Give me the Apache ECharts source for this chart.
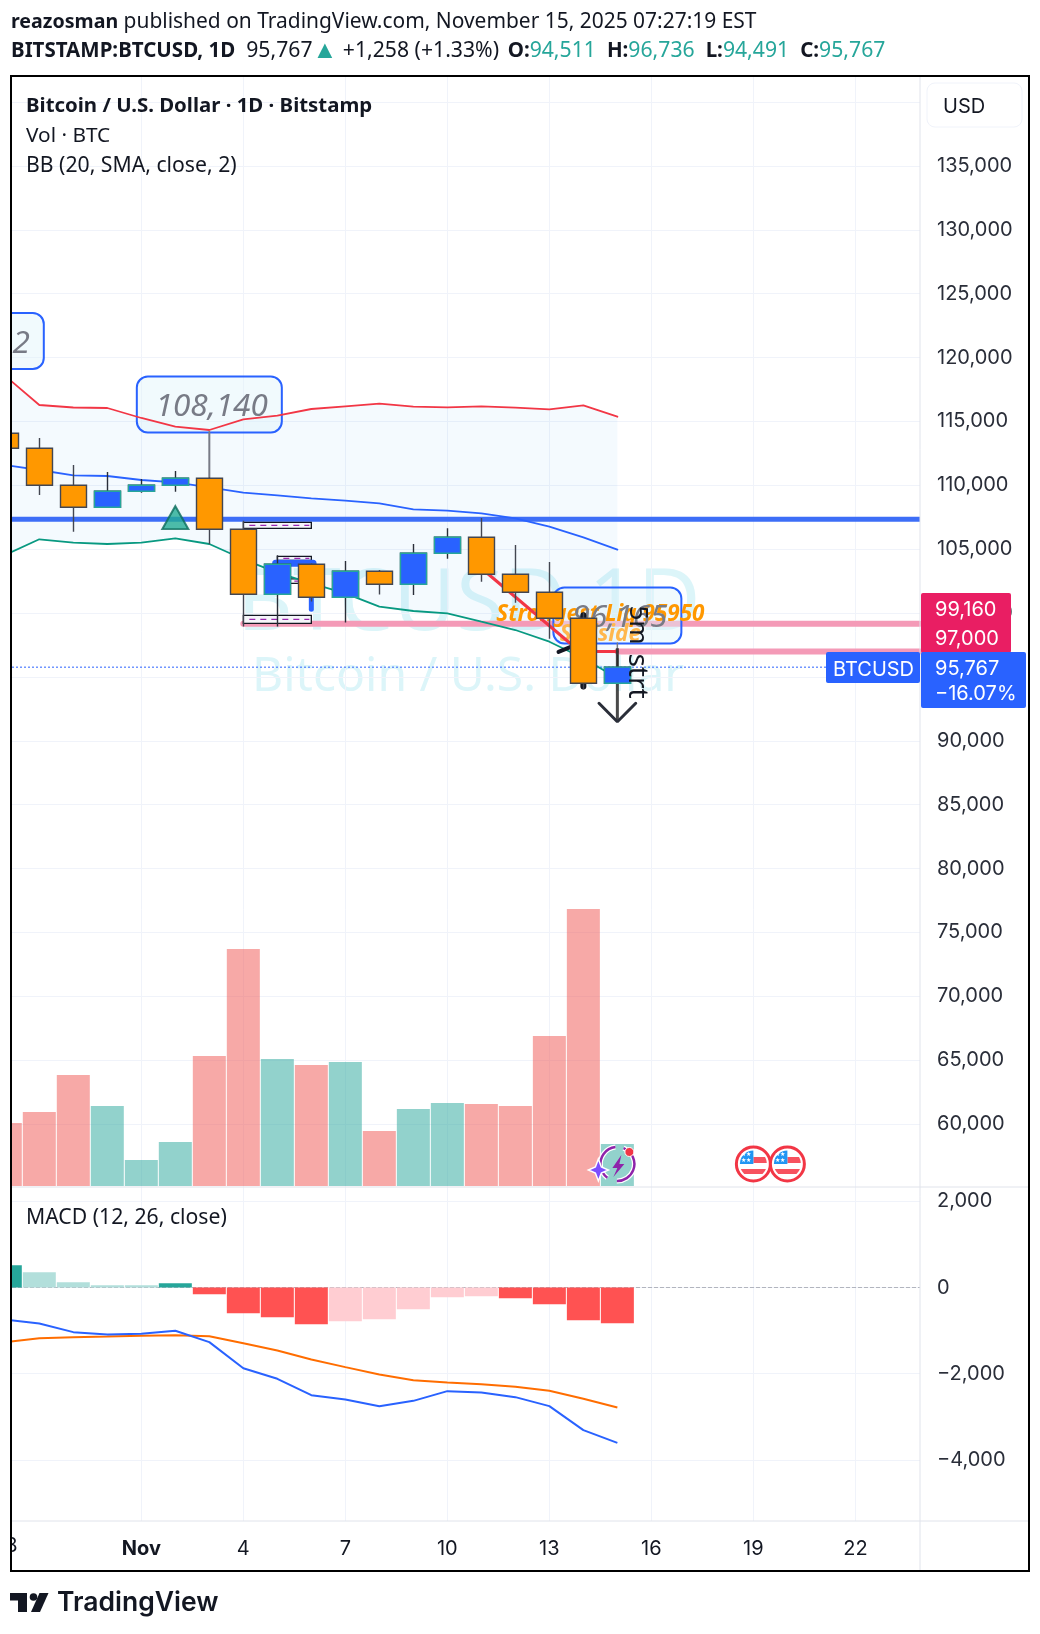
<!DOCTYPE html>
<html>
<head>
<meta charset="utf-8">
<title>BITSTAMP:BTCUSD 1D</title>
<script src="https://cdn.jsdelivr.net/npm/echarts@6/dist/echarts.min.js"></script>
<style>
  html, body { margin: 0; padding: 0; background: #fff; }
  #chart { width: 1040px; height: 1634px; }
</style>
</head>
<body>
<div id="chart"></div>
<script>
// days counted from Nov 1 (Oct 28 = -4)
const days = [-4, -3, -2, -1, 0, 1, 2, 3, 4, 5, 6, 7, 8, 9, 10, 11, 12, 13, 14];

const opens  = [114073, 112899, 110003, 108281, 109533, 110003, 110551, 106559, 101472, 103820, 101237, 103272, 102253, 104679, 105932, 103036, 101627, 99592, 94511];
const closes = [112899, 110003, 108281, 109533, 110003, 110551, 106559, 101472, 103820, 101237, 103272, 102254, 104679, 105932, 103036, 101627, 99592, 94511, 95767];
const lows   = [112500, 109246, 106377, 108281, 109429, 109507, 105385, 98941, 98941, 100900, 99254, 101446, 101418, 104262, 102462, 100818, 97999, 94034, 94491];
const highs  = [114500, 113708, 111594, 111047, 110499, 111125, 110629, 107237, 104524, 103900, 104081, 103376, 105410, 106636, 107445, 105332, 104001, 100061, 96736];

const volumes = [1260, 1480, 2220, 1600, 520, 880, 2600, 4740, 2540, 2420, 2480, 1100, 1540, 1660, 1640, 1600, 3000, 5540, 840];

const bbUpper  = [118560, 116290, 116094, 116055, 115273, 114592, 114333, 115170, 115452, 115977, 116188, 116392, 116157, 116110, 116188, 116080, 115954, 116267, 115374];
const bbMiddle = [111593, 111202, 110787, 110732, 110419, 110239, 109847, 109425, 109221, 108986, 108799, 108595, 108125, 108016, 107812, 107421, 106763, 105933, 104963];
const bbLower  = [104548, 105777, 105511, 105409, 105511, 105855, 105409, 104211, 103162, 102332, 101549, 100500, 100164, 99983, 99326, 98676, 97760, 96461, 94895];

const macdHist   = [518, 356, 124, 54, 54, 100, -155, -596, -688, -851, -781, -735, -503, -224, -201, -247, -387, -758, -828];
const macdLine   = [-742, -835, -1036, -1090, -1075, -1005, -1268, -1872, -2119, -2498, -2599, -2753, -2630, -2405, -2436, -2544, -2753, -3310, -3604];
const macdSignal = [-1268, -1176, -1152, -1137, -1121, -1106, -1129, -1292, -1462, -1671, -1848, -2019, -2150, -2204, -2243, -2305, -2398, -2583, -2784];

const priceTicks = [60000, 65000, 70000, 75000, 80000, 85000, 90000, 95000, 100000, 105000, 110000, 115000, 120000, 125000, 130000, 135000];
const macdTicks = [-4000, -2000, 0, 2000];
const dayTicks = [0, 3, 6, 9, 12, 15, 18, 21];
const dayTickLabels = ['Nov', '4', '7', '10', '13', '16', '19', '22'];

const lastPrice = 95767;
const zoneLevels = [99160, 97000];
const trendLevel = 107343;

const noteDays = [-5, 2, 14];
const notePrices = [121300, 116330, 99810];
const noteTexts = ['2', '108,140', '96,165'];

const boxDays = [[3, 5], [3, 5], [4, 5], [4, 5]];
const boxPrices = [[107107, 106637], [99828, 99202], [104446, 104133], [102672, 102333]];

const red = [[10.2, 103060], [12.6, 97660], [13.4, 97000], [14, 97000]];
const blackKnob = [[13, 99830], [13, 94260]];
const blackTick = [[12.27, 96960], [12.63, 97350]];
const arrowShaft = [[14, 97244], [14, 91497]];
const arrowHead = [[13.46, 92938], [14, 91497], [14.54, 92938]];
const note1Stem = [[2, 114177], [2, 110629]];
const note3Stem = [[14, 97660], [14, 96736]];
const blueBar1 = [[3.95, 103898], [5.05, 103898]];
const blueBar2 = [[5, 101237], [5, 100298]];

const xMin = -3.803, xMax = 22.9;
const FONT = '"Noto Sans", "Open Sans", sans-serif';
const AXIS_FONT = 'Inter, sans-serif';
const INK = '#131722';

const zip = (xs, ys) => xs.map((x, i) => [x, ys[i]]);

function drawLine(name, points, color, width, z, extra) {
    return Object.assign({
        name, type: 'line', data: points, xAxisIndex: 0, yAxisIndex: 0,
        showSymbol: false, silent: true, z,
        lineStyle: { color, width, cap: 'round' }
    }, extra);
}

function macdColor(v, i) {
    const prev = i > 0 ? macdHist[i - 1] : -Infinity;
    if (v >= 0) return v > prev ? '#26a69a' : '#b2dfdb';
    return v < prev ? '#ff5252' : '#ffcdd2';
}

function renderBand(params, api) {
    const top = days.map((d, i) => api.coord([d, bbUpper[i]]));
    const bottom = days.map((d, i) => api.coord([d, bbLower[i]])).reverse();
    return {
        type: 'polygon',
        shape: { points: top.concat(bottom) },
        style: { fill: 'rgba(33,150,243,0.05)' }
    };
}

const noteWidth = i => (i === 2 ? 128 : 145);

function renderNoteBox(params, api) {
    const i = params.dataIndex;
    const c = api.coord([noteDays[i], notePrices[i]]);
    const w = noteWidth(i), h = 56;
    return {
        type: 'rect',
        shape: { x: c[0] - w / 2, y: c[1] - h / 2, width: w, height: h, r: 11 },
        style: { fill: 'rgba(225,244,250,0.45)', stroke: '#2962ff', lineWidth: 2 }
    };
}

function renderNoteText(params, api) {
    const i = params.dataIndex;
    const c = api.coord([noteDays[i], notePrices[i]]);
    return {
        type: 'text',
        x: c[0] + noteWidth(i) / 2 - 14, y: c[1] + 3,
        style: { text: noteTexts[i], fill: '#787b86', font: 'italic 31.5px ' + FONT, align: 'right', verticalAlign: 'middle' }
    };
}

function renderBox(params, api) {
    const i = params.dataIndex;
    const a = api.coord([boxDays[i][0], boxPrices[i][0]]);
    const b = api.coord([boxDays[i][1], boxPrices[i][1]]);
    const mid = (a[1] + b[1]) / 2;
    return {
        type: 'group',
        children: [{
            type: 'rect',
            shape: { x: a[0], y: a[1], width: b[0] - a[0], height: b[1] - a[1] },
            style: { fill: '#f5f6fa', stroke: '#131722', lineWidth: 1.3 }
        }, {
            type: 'line',
            shape: { x1: a[0] + 6, y1: mid, x2: b[0] - 2, y2: mid },
            style: { stroke: '#9c27b0', lineWidth: 1.2, lineDash: [6, 5] }
        }]
    };
}

// orange liquidity text, sits under the candles
const liqDays = [13.5, 13.5];
const liqPrices = [99851, 98285];
const liqTexts = ['Strongest Liq 95950', 'Sellside'];
function renderLiq(params, api) {
    const i = params.dataIndex;
    const c = api.coord([liqDays[i], liqPrices[i]]);
    return {
        type: 'text', x: c[0], y: c[1],
        style: {
            text: liqTexts[i], align: 'center', verticalAlign: 'middle',
            fill: i === 0 ? '#ff9800' : '#ffb74d',
            font: 'italic bold 22.5px ' + FONT
        }
    };
}

// rotated chart notes drawn over the candles
const markDays = [14.58, 14.58];
const markPrices = [99068, 95076];
const markTexts = ['5m', 'strt'];
function renderMark(params, api) {
    const i = params.dataIndex;
    const c = api.coord([markDays[i], markPrices[i]]);
    return {
        type: 'text', x: c[0], y: c[1], rotation: -Math.PI / 2,
        style: { text: markTexts[i], align: 'center', verticalAlign: 'middle', fill: INK, font: (i === 0 ? 26 : 28) + 'px ' + FONT }
    };
}

const flagDays = [18, 19];
const iconPrice = 56875;
function renderFlag(params, api) {
    const c = api.coord([flagDays[params.dataIndex], iconPrice]);
    const clip = { type: 'circle', shape: { cx: 0, cy: 0, r: 13.5 } };
    return {
        type: 'group', x: c[0], y: c[1],
        children: [
            { type: 'circle', shape: { cx: 0, cy: 0, r: 17 }, style: { fill: '#fff', stroke: '#f23645', lineWidth: 3 } },
            { type: 'rect', shape: { x: 0, y: -7, width: 15, height: 6 }, style: { fill: '#f7525f' }, clipPath: clip },
            { type: 'rect', shape: { x: -15, y: 5, width: 30, height: 5 }, style: { fill: '#f7525f' }, clipPath: clip },
            { type: 'rect', shape: { x: -15, y: -15, width: 15, height: 15 }, style: { fill: '#2196f3' }, clipPath: clip },
            { type: 'text', x: -7, y: -7, style: { text: '★★\n★★', fill: '#fff', font: '6px ' + FONT, align: 'center', verticalAlign: 'middle' } }
        ]
    };
}

const boltDays = [14];
function renderBolt(params, api) {
    const c = api.coord([boltDays[params.dataIndex], iconPrice]);
    return {
        type: 'group', x: c[0], y: c[1],
        children: [
            { type: 'arc', shape: { cx: 0, cy: 0, r: 17, startAngle: -1.2, endAngle: 1.6 }, style: { fill: 'none', stroke: '#fff', lineWidth: 5 } },
            { type: 'arc', shape: { cx: 0, cy: 0, r: 17, startAngle: 2.2, endAngle: 4.6 }, style: { fill: 'none', stroke: '#fff', lineWidth: 5 } },
            { type: 'arc', shape: { cx: 0, cy: 0, r: 17, startAngle: -1.2, endAngle: 1.6 }, style: { fill: 'none', stroke: '#8e24aa', lineWidth: 2.5 } },
            { type: 'arc', shape: { cx: 0, cy: 0, r: 17, startAngle: 2.2, endAngle: 4.6 }, style: { fill: 'none', stroke: '#8e24aa', lineWidth: 2.5 } },
            { type: 'polygon', shape: { points: [[4, -9], [-5, 4], [0, 4], [-4, 13], [7, 0], [2, 0]] }, style: { fill: '#8e24aa' } },
            { type: 'circle', shape: { cx: 12, cy: -12, r: 4.5 }, style: { fill: '#f23645', stroke: '#fff', lineWidth: 1 } },
            { type: 'polygon', shape: { points: [[-19, -5], [-16, 3], [-9, 6], [-16, 9], [-19, 17], [-22, 9], [-29, 6], [-22, 3]] }, style: { fill: '#7c4dff', stroke: '#fff', lineWidth: 1.5 } }
        ]
    };
}

const line1Rich = {
    b: { font: 'bold 19.6px ' + FONT, fill: INK },
    n: { font: '20.95px ' + FONT, fill: INK }
};
const line2Rich = {
    b: { font: 'bold 20.5px ' + FONT, fill: INK },
    n: { font: '21.2px ' + FONT, fill: INK },
    t: { font: '21.2px ' + FONT, fill: '#26a69a' },
    a: { font: '25px ' + FONT, fill: '#26a69a' },
    s: { font: '12px ' + FONT, fill: INK }
};

function label(x, y, text, font, fill, extra) {
    return Object.assign({
        type: 'text', x, y, z: 50,
        style: { text, font, fill, verticalAlign: 'middle' }
    }, extra);
}

function tag(x, y, w, h, color) {
    return { type: 'rect', z: 100, shape: { x, y, width: w, height: h, r: 2 }, style: { fill: color } };
}

function rule(x1, y1, x2, y2, color) {
    return { type: 'line', z: 40, shape: { x1, y1, x2, y2 }, style: { stroke: color, lineWidth: 1 } };
}

const graphicElements = [
    // watermark
    label(237, 605, 'BTCUSD 1D', '86px ' + FONT, '#dcf5f9', { z: 0 }),
    label(252, 677, 'Bitcoin / U.S. Dollar', '48px ' + FONT, '#dcf5f9', { z: 0 }),

    // header
    label(11, 22, '', '', INK, { style: { text: '{b|reazosman}{n| published on TradingView.com, November 15, 2025 07:27:19 EST}', rich: line1Rich, verticalAlign: 'middle' } }),
    label(11, 51, '', '', INK, { style: { text: '{b|BITSTAMP:BTCUSD, 1D}{n|  95,767}{a|▲}{n| +1,258 (+1.33%) }{s| }{b|O:}{t|94,511}{n|  }{b|H:}{t|96,736}{n|  }{b|L:}{t|94,491}{n|  }{b|C:}{t|95,767}', rich: line2Rich, verticalAlign: 'middle' } }),

    // pane legends
    label(26, 106, 'Bitcoin / U.S. Dollar · 1D · Bitstamp', 'bold 20.4px ' + FONT, INK),
    label(26, 136, 'Vol · BTC', '20.8px ' + FONT, INK),
    label(26, 166, 'BB (20, SMA, close, 2)', '21.2px ' + FONT, INK),
    label(26, 1218, 'MACD (12, 26, close)', '21.2px ' + FONT, INK),

    // pane separators
    rule(12, 1187, 1028, 1187, '#e0e3eb'),
    rule(12, 1521, 1028, 1521, '#e0e3eb'),
    rule(920, 76, 920, 1570, '#e0e3eb'),

    // currency button
    { type: 'rect', z: 50, shape: { x: 927, y: 83, width: 95, height: 44, r: 8 }, style: { fill: '#fff', stroke: '#f0f3fa', lineWidth: 1 } },
    label(943, 107, 'USD', '20px ' + AXIS_FONT, INK),

    // price tags
    tag(921, 593, 90, 60, '#e91e63'),
    label(935, 610, '99,160', '20px ' + AXIS_FONT, '#fff', { z: 101 }),
    label(935, 639, '97,000', '20px ' + AXIS_FONT, '#fff', { z: 101 }),
    tag(826, 652, 94, 31, '#2962ff'),
    label(833, 670, 'BTCUSD', '20px ' + AXIS_FONT, '#fff', { z: 101 }),
    tag(921, 652, 105, 56, '#2962ff'),
    label(935, 669, '95,767', '20px ' + AXIS_FONT, '#fff', { z: 101 }),
    label(935, 694, '−16.07%', '20px ' + AXIS_FONT, '#fff', { z: 101 }),

    // clipped date on the left edge, masked by the frame
    label(-7, 1546, '28', '20px ' + AXIS_FONT, INK, { z: 60 }),
    { type: 'rect', z: 61, shape: { x: 0, y: 1525, width: 10, height: 40 }, style: { fill: '#fff' } },
    { type: 'rect', z: 110, shape: { x: 0, y: 70, width: 10, height: 1460 }, style: { fill: '#fff' } },

    // frame
    { type: 'rect', z: 120, shape: { x: 11, y: 76, width: 1018, height: 1495 }, style: { fill: 'none', stroke: '#000', lineWidth: 2 } },

    // logo
    { type: 'polygon', z: 50, shape: { points: [[10, 1593], [27, 1593], [27, 1612], [18, 1612], [18, 1600.5], [10, 1600.5]] }, style: { fill: INK } },
    { type: 'circle', z: 50, shape: { cx: 33.5, cy: 1597, r: 3.8 }, style: { fill: INK } },
    { type: 'polygon', z: 50, shape: { points: [[39.5, 1593], [48.5, 1593], [40, 1612], [31, 1612]] }, style: { fill: INK } },
    label(57, 1603, 'TradingView', '600 26.5px Inter, sans-serif', INK)
];

const option = {
    animation: false,
    backgroundColor: '#fff',
    textStyle: { fontFamily: AXIS_FONT },
    grid: [
        { left: 12, right: 120, top: 76, height: 1111 },
        { left: 12, right: 120, top: 1187, height: 334 }
    ],
    xAxis: [{
        type: 'value', gridIndex: 0, min: xMin, max: xMax,
        axisLine: { show: false },
        axisTick: { show: false, customValues: dayTicks },
        axisLabel: { show: false },
        splitLine: { show: true, lineStyle: { color: '#f0f3fa', width: 1 } }
    }, {
        type: 'value', gridIndex: 1, min: xMin, max: xMax,
        axisLine: { show: false },
        axisTick: { show: false, customValues: dayTicks },
        axisLabel: {
            customValues: dayTicks, margin: 18, fontSize: 20, color: INK, fontFamily: AXIS_FONT,
            formatter: v => {
                const text = dayTickLabels[dayTicks.indexOf(v)];
                return v === 0 ? '{b|' + text + '}' : text;
            },
            rich: { b: { fontWeight: 'bold', fontSize: 20, color: INK, fontFamily: AXIS_FONT } }
        },
        splitLine: { show: true, lineStyle: { color: '#f0f3fa', width: 1 } }
    }],
    yAxis: [{
        type: 'value', gridIndex: 0, position: 'right', min: 55073, max: 142045,
        axisLine: { show: false },
        axisTick: { show: false, customValues: priceTicks.concat([140000]) },
        axisLabel: {
            customValues: priceTicks, margin: 17, align: 'left', fontSize: 20, color: '#2a2e39', fontFamily: AXIS_FONT,
            padding: [4, 0, 0, 0],
            formatter: v => v.toLocaleString('en-US')
        },
        splitLine: { show: true, lineStyle: { color: '#f0f3fa', width: 1 } }
    }, {
        type: 'value', gridIndex: 0, min: -20, max: 22200, show: false, splitLine: { show: false }
    }, {
        type: 'value', gridIndex: 1, position: 'right', min: -5418, max: 2332,
        axisLine: { show: false },
        axisTick: { show: false, customValues: macdTicks },
        axisLabel: {
            customValues: macdTicks, margin: 17, align: 'left', fontSize: 20, color: '#2a2e39', fontFamily: AXIS_FONT,
            padding: [4, 0, 0, 0],
            formatter: v => v.toLocaleString('en-US').replace('-', '−')
        },
        splitLine: { show: true, lineStyle: { color: '#f0f3fa', width: 1 } }
    }],
    series: [
        {
            name: 'Vol', type: 'bar', xAxisIndex: 0, yAxisIndex: 1, z: 1, barWidth: 33,
            data: zip(days, volumes),
            itemStyle: {
                color: p => closes[p.dataIndex] >= opens[p.dataIndex] ? 'rgba(38,166,154,0.5)' : 'rgba(239,83,80,0.5)'
            }
        },
        { name: 'bbFill', type: 'custom', xAxisIndex: 0, yAxisIndex: 0, clip: true, z: 1, data: [0], renderItem: renderBand, silent: true },
        drawLine('trend', [[xMin, trendLevel], [xMax, trendLevel]], '#3d6ef7', 5, 2, { lineStyle: { color: '#3d6ef7', width: 5, cap: 'butt' } }),
        drawLine('last', [[xMin, lastPrice], [xMax, lastPrice]], '#2962ff', 1, 2, { lineStyle: { color: '#2962ff', width: 1, type: [2, 2] } }),
        drawLine('zone1', [[3, zoneLevels[0]], [xMax, zoneLevels[0]]], '#f49ab7', 6, 2),
        drawLine('zone2', [[14, zoneLevels[1]], [xMax, zoneLevels[1]]], '#f49ab7', 6, 2),
        { name: 'noteBoxes', type: 'custom', xAxisIndex: 0, yAxisIndex: 0, clip: true, z: 3, data: noteDays, renderItem: renderNoteBox, silent: true },
        { name: 'liq', type: 'custom', xAxisIndex: 0, yAxisIndex: 0, z: 3, data: liqDays, renderItem: renderLiq, silent: true },
        { name: 'noteTexts', type: 'custom', xAxisIndex: 0, yAxisIndex: 0, clip: true, z: 3, data: noteDays, renderItem: renderNoteText, silent: true },
        drawLine('bbUpper', zip(days, bbUpper), '#f23645', 1.8, 4),
        drawLine('bbMiddle', zip(days, bbMiddle), '#2962ff', 1.8, 4),
        drawLine('bbLower', zip(days, bbLower), '#089981', 1.8, 4),
        drawLine('redDrawing', red, '#f23645', 3, 4),
        drawLine('stem1', note1Stem, '#787b86', 2, 4),
        drawLine('stem3', note3Stem, '#787b86', 1.5, 4),
        { name: 'boxes', type: 'custom', xAxisIndex: 0, yAxisIndex: 0, z: 4, data: boxDays.map((b, i) => i), renderItem: renderBox, silent: true },
        drawLine('blueBar1', blueBar1, '#2962ff', 7, 4),
        drawLine('blueBar2', blueBar2, '#2962ff', 5, 4),
        drawLine('blackKnob', blackKnob, '#131722', 6, 4),
        drawLine('blackTick', blackTick, '#131722', 4, 4),
        {
            name: 'candles', type: 'candlestick', xAxisIndex: 0, yAxisIndex: 0, z: 5, barWidth: 26,
            encode: { x: 0, y: [1, 2, 3, 4] },
            data: days.map((d, i) => [d, opens[i], closes[i], lows[i], highs[i]]),
            itemStyle: { color: '#2962ff', color0: '#ff9800', borderColor: '#2a2e39', borderColor0: '#434651', borderWidth: 1.4 }
        },
        {
            // up bodies keep a teal edge, wicks stay dark
            name: 'upBodies', type: 'candlestick', xAxisIndex: 0, yAxisIndex: 0, z: 6, barWidth: 26,
            encode: { x: 0, y: [1, 2, 3, 4] },
            data: days.map((d, i) => [d, opens[i], closes[i], opens[i], closes[i]]).filter(r => r[2] > r[1]),
            itemStyle: { color: '#2962ff', borderColor: '#26a69a', borderWidth: 1.4 }
        },
        drawLine('arrowShaft', arrowShaft, '#3a3a3a', 3, 6, { lineStyle: { color: '#2a2a2a', width: 3, opacity: 0.85 } }),
        drawLine('arrowHead', arrowHead, '#2a2e39', 3, 6),
        { name: 'marks', type: 'custom', xAxisIndex: 0, yAxisIndex: 0, z: 7, data: markDays, renderItem: renderMark, silent: true },
        {
            name: 'signal', type: 'scatter', xAxisIndex: 0, yAxisIndex: 0, z: 7,
            data: [[1, 107475]], symbol: 'triangle', symbolSize: [26, 23],
            itemStyle: { color: '#22ab94', borderColor: '#0b6b5b', borderWidth: 2 }
        },
        { name: 'flags', type: 'custom', xAxisIndex: 0, yAxisIndex: 0, z: 7, data: flagDays, renderItem: renderFlag, silent: true },
        { name: 'bolt', type: 'custom', xAxisIndex: 0, yAxisIndex: 0, z: 7, data: boltDays, renderItem: renderBolt, silent: true },

        // MACD pane
        {
            name: 'zero', type: 'line', xAxisIndex: 1, yAxisIndex: 2, z: 1, showSymbol: false, silent: true,
            data: [[xMin, 0], [xMax, 0]],
            lineStyle: { color: '#b2b5be', width: 1, type: 'dashed' }
        },
        {
            name: 'Histogram', type: 'bar', xAxisIndex: 1, yAxisIndex: 2, z: 2, barWidth: 33,
            data: zip(days, macdHist),
            itemStyle: { color: p => macdColor(macdHist[p.dataIndex], p.dataIndex) }
        },
        {
            name: 'Signal', type: 'line', xAxisIndex: 1, yAxisIndex: 2, z: 3, showSymbol: false, silent: true,
            data: zip(days, macdSignal), lineStyle: { color: '#ff6d00', width: 2 }
        },
        {
            name: 'MACD', type: 'line', xAxisIndex: 1, yAxisIndex: 2, z: 3, showSymbol: false, silent: true,
            data: zip(days, macdLine), lineStyle: { color: '#2962ff', width: 2 }
        }
    ],
    graphic: { elements: graphicElements }
};

const myChart = echarts.init(document.getElementById('chart'), null, { renderer: 'canvas' });
myChart.setOption(option);
</script>
</body>
</html>
